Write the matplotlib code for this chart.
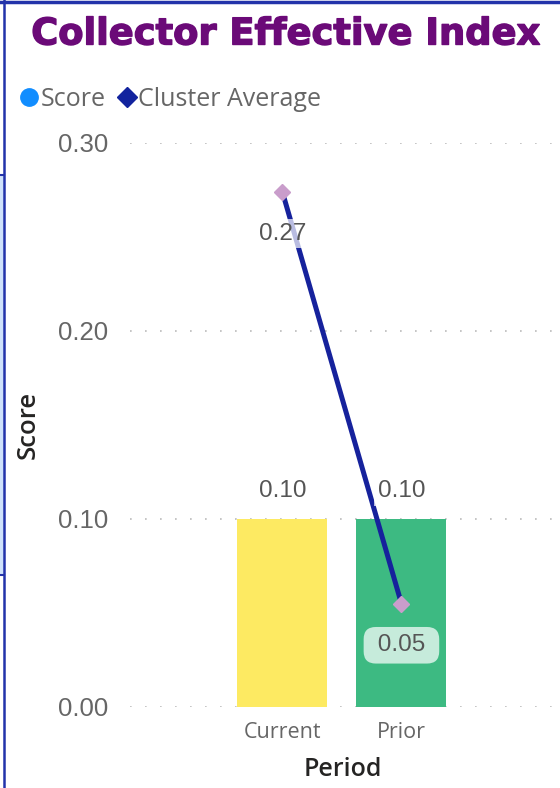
import matplotlib
matplotlib.use('Agg')
import matplotlib.pyplot as plt
import matplotlib.patheffects as pe
from matplotlib.lines import Line2D
from matplotlib.patches import Rectangle

# data
periods = ['Current', 'Prior']
score = [0.10, 0.10]
cluster_avg = [0.274, 0.055]
bar_colors = ['#fdea62', '#3dba82']
score_labels = ['0.10', '0.10']
avg_labels = ['0.27', '0.05']
yticks = [0.0, 0.1, 0.2, 0.3]

fig = plt.figure(figsize=(5.6, 7.88), dpi=100)
ax = fig.add_axes([130/560, 81/788, 425/560, 564/788])

x = list(range(len(periods)))
ax.bar(x, score, width=0.756, color=bar_colors, zorder=2)
ax.plot(x, cluster_avg, color='#16229c', lw=3.6, zorder=3, solid_capstyle='butt')
ax.plot(x, cluster_avg, ls='none', marker='D', ms=8, color='#c99dcb', zorder=4, clip_on=False)

lab_kw = dict(ha='center', va='center', fontsize=17.5, color='#555555',
              family='Liberation Sans', zorder=5, textcoords='offset points')

for xi, v, lab in zip(x, score, score_labels):
    ax.annotate(lab, (xi, v), xytext=(0, 20),
                bbox=dict(boxstyle='square,pad=0.15', fc='white', ec='none', alpha=0.7), **lab_kw)

# cluster average labels
ax.annotate(avg_labels[0], (x[0], cluster_avg[0]), xytext=(0, -30),
            bbox=dict(boxstyle='square,pad=0.15', fc='white', ec='none', alpha=0.7), **lab_kw)
ax.annotate(' ' + avg_labels[1] + ' ', (x[1], cluster_avg[1]), xytext=(0, -30),
            bbox=dict(boxstyle='round,pad=0.3,rounding_size=0.5', fc='#c6ebdb', ec='none'), **lab_kw)

ax.set_ylim(0, 0.30)
ax.set_xlim(-1.28, 2.29)
ax.set_yticks(yticks)
ax.set_yticklabels([f'{t:.2f}' for t in yticks], family='Liberation Sans', fontsize=18.5, color='#666666')
ax.set_xticks(x)
ax.set_xticklabels(periods, family='Open Sans', fontsize=15.5, color='#666666')
ax.tick_params(length=0)
ax.tick_params(axis='y', pad=16)
ax.tick_params(axis='x', pad=11)
for s in ax.spines.values():
    s.set_visible(False)
ax.grid(axis='y', color='#bbbbbb', lw=1.2, ls=(0, (1, 8)), zorder=0)
ax.set_axisbelow(True)

ax.set_xlabel('Period', family='Open Sans', fontsize=18, fontweight='semibold', color='#252423', labelpad=10)
ax.set_ylabel('Score', family='Open Sans', fontsize=18.5, fontweight='semibold', color='#252423', labelpad=12)

fig.text(286/560, 1 - 34/788, 'Collector Effective Index', ha='center', va='center',
         fontsize=26.5, fontweight='bold', color='#6b0a78', family='DejaVu Sans',
         path_effects=[pe.withStroke(linewidth=1.0, foreground='#6b0a78')])

handles = [Line2D([], [], ls='none', marker='o', ms=12.5, color='#118dff'),
           Line2D([], [], ls='none', marker='D', ms=10, color='#12239e')]
fig.legend(handles, ['Score', 'Cluster Average'], loc='center left',
           bbox_to_anchor=(-2/560, 1 - 99/788), ncol=2, frameon=False,
           handlelength=0.7, handletextpad=0.1, columnspacing=0.5,
           prop={'family': 'Open Sans', 'size': 18}, labelcolor='#666666')

# screenshot frame
fig.add_artist(Line2D([0, 1], [1 - 1.5/788, 1 - 1.5/788], color='#2233aa', lw=2.5))
fig.add_artist(Rectangle((0, 1 - 575/788), 3.5/560, 400/788, fc='#cfe2fb', ec='none'))
fig.add_artist(Line2D([0, 4/560], [1 - 175/788, 1 - 175/788], color='#2233aa', lw=1.5))
fig.add_artist(Line2D([0, 4/560], [1 - 575/788, 1 - 575/788], color='#2233aa', lw=1.5))
fig.add_artist(Line2D([4/560, 4/560], [0, 1], color='#2233aa', lw=1.8))

fig.savefig('out.png', dpi=100)
